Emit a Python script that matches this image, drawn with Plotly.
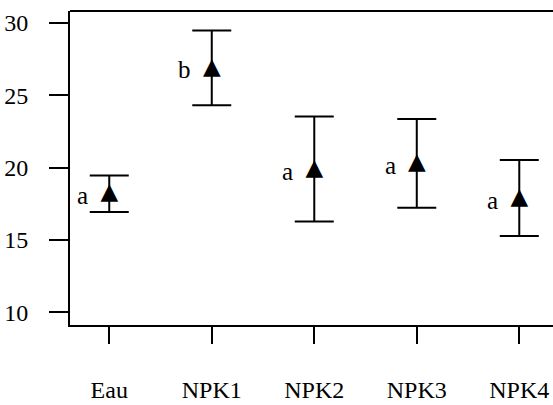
import plotly.graph_objects as go

# Treatment means with their half-interval and group letters
treatments = ["Eau", "NPK1", "NPK2", "NPK3", "NPK4"]
means = [18.2, 26.9, 19.9, 20.3, 17.9]
half_width = [1.26, 2.58, 3.63, 3.07, 2.63]
groups = ["a", "b", "a", "a", "a"]
y_ticks = [10, 15, 20, 25, 30]

positions = list(range(len(treatments)))
serif = "Times New Roman, Liberation Serif, serif"

fig = go.Figure()

# error bars (no visible marker)
fig.add_trace(go.Scatter(
    x=positions, y=means, mode="markers",
    marker=dict(size=1, color="rgba(0,0,0,0)"),
    error_y=dict(type="data", array=half_width, visible=True,
                 color="black", thickness=2, width=19.5),
    hoverinfo="skip", showlegend=False,
))

# solid triangles for the means
fig.add_trace(go.Scatter(
    x=positions, y=means, mode="text", text=["▲"] * len(means),
    textposition="middle center",
    textfont=dict(family="DejaVu Sans", size=23, color="black"),
    showlegend=False,
))

for pos, m, g in zip(positions, means, groups):
    fig.add_annotation(x=pos, y=m, text=g, showarrow=False,
                       xanchor="right", yanchor="middle",
                       xshift=-19, yshift=-2,
                       font=dict(family=serif, size=25, color="black"))

# top border of the frame
fig.add_shape(type="line", xref="paper", yref="paper",
              x0=0, x1=1, y0=1, y1=1, line=dict(color="black", width=2))

fig.update_layout(
    width=553, height=405,
    margin=dict(l=70, r=0, t=11, b=80, autoexpand=False),
    paper_bgcolor="white", plot_bgcolor="white",
    font=dict(family=serif, size=24, color="black"),
    xaxis=dict(
        range=[-0.383, 4.329], tickmode="array", tickvals=positions,
        ticktext=treatments, ticks="outside", ticklen=17, tickwidth=2,
        tickcolor="black", showline=True, linecolor="black", linewidth=2,
        showgrid=False, zeroline=False, ticklabelstandoff=25,
        automargin=False,
        tickfont=dict(family=serif, size=24, color="black"),
    ),
    yaxis=dict(
        range=[9.122, 30.83], tickmode="array", tickvals=y_ticks,
        ticks="outside", ticklen=19, tickwidth=2, tickcolor="black",
        showline=True, linecolor="black", linewidth=2,
        showgrid=False, zeroline=False, ticklabelstandoff=16,
        automargin=False,
        tickfont=dict(family=serif, size=24, color="black"),
    ),
)

fig.write_html("out.html")
